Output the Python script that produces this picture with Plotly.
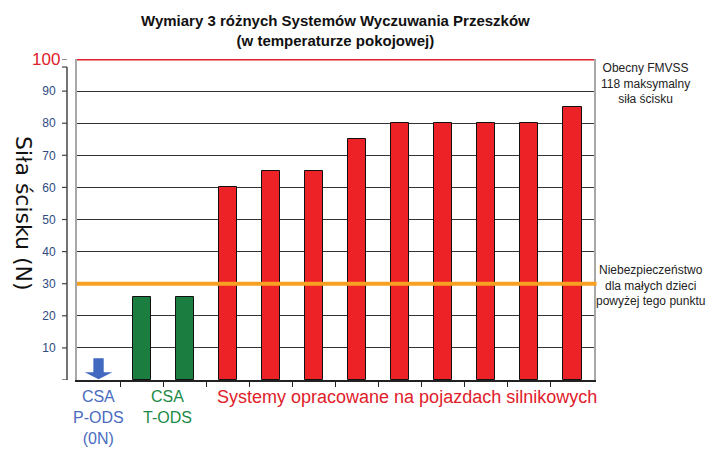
import plotly.graph_objects as go

# ---- data ----
categories = ["CSA P-ODS", "CSA T-ODS a", "CSA T-ODS b",
              "Sys 1", "Sys 2", "Sys 3", "Sys 4", "Sys 5",
              "Sys 6", "Sys 7", "Sys 8", "Sys 9"]
values = [0, 26, 26, 60, 65, 65, 75, 80, 80, 80, 80, 85]
groups = ["pods", "tods", "tods"] + ["veh"] * 9
fmvss_limit = 100
danger_level = 30
y_ticks = [10, 20, 30, 40, 50, 60, 70, 80, 90]

group_colors = {"pods": "#4169c0", "tods": "#1b7d3f", "veh": "#ec2227"}

x_pos = list(range(len(categories)))

fig = go.Figure()
fig.add_trace(go.Bar(
    x=x_pos, y=values, width=0.42,
    marker=dict(color=[group_colors[g] for g in groups],
                line=dict(color="#111111",
                          width=[0 if v == 0 else 1 for v in values])),
    hovertext=categories, showlegend=False,
))

shapes = []
# blue block arrow for P-ODS (0 N)
shapes.append(dict(
    type="path", xref="x", yref="y",
    path="M -0.12 6.8 L 0.12 6.8 L 0.12 2.4 L 0.32 2.4 L 0 0.2 L -0.32 2.4 L -0.12 2.4 Z",
    fillcolor="#4169c0", line=dict(width=0), layer="above"))
# reference lines
shapes.append(dict(type="line", xref="paper", yref="y", x0=0, x1=1.0,
                   y0=fmvss_limit, y1=fmvss_limit,
                   line=dict(color="#e0202a", width=3), layer="above"))
shapes.append(dict(type="line", xref="paper", yref="y", x0=0, x1=1.005,
                   y0=danger_level, y1=danger_level,
                   line=dict(color="#f7a021", width=4), layer="above"))
# offset y axis line with ticks (drawn left of the plot frame)
axis_top = 97.5
shapes.append(dict(type="line", xref="paper", yref="y", xsizemode="pixel",
                   xanchor=0, x0=-10, x1=-10, y0=0, y1=axis_top,
                   line=dict(color="#444", width=1.5)))
for v in [0] + y_ticks + [axis_top]:
    shapes.append(dict(type="line", xref="paper", yref="y", xsizemode="pixel",
                       xanchor=0, x0=-15, x1=-10, y0=v, y1=v,
                       line=dict(color="#444", width=1.2)))
shapes.append(dict(type="line", xref="paper", yref="y", xsizemode="pixel",
                   xanchor=0, x0=-15, x1=-10, y0=fmvss_limit, y1=fmvss_limit,
                   line=dict(color="#444", width=1.2)))

annotations = [
    dict(text="<b>Wymiary 3 różnych Systemów Wyczuwania Przeszków<br>(w temperaturze pokojowej)</b>",
         xref="paper", yref="paper", x=0.5, y=1.0, yshift=29, xshift=0,
         xanchor="center", showarrow=False, font=dict(size=15, color="#111"),
         yanchor="middle"),
    dict(text="100", xref="paper", yref="y", x=0, y=100, xanchor="right",
         xshift=-15, showarrow=False, font=dict(size=17, color="#e0202a")),
    dict(text="Siła ścisku (N)", xref="paper", yref="paper", x=0, y=0.52,
         xshift=-53, textangle=90, showarrow=False, xanchor="center",
         font=dict(size=22, color="#111", family="DejaVu Sans, Liberation Sans")),
    dict(text="Obecny FMVSS<br>118 maksymalny<br>siła ścisku", xref="paper",
         yref="y", x=1, y=92.5, xshift=51, xanchor="center", showarrow=False,
         font=dict(size=12, color="#222")),
    dict(text="Niebezpieczeństwo<br>dla małych dzieci<br>powyżej tego punktu",
         xref="paper", yref="y", x=1, y=29.5, xshift=56, xanchor="center",
         showarrow=False, font=dict(size=12, color="#222")),
    dict(text="CSA<br>P-ODS<br>(0N)", xref="x", yref="paper", x=0, y=0,
         yanchor="top", yshift=-6, showarrow=False, xanchor="center",
         font=dict(size=16, color="#4a6cc0")),
    dict(text="CSA<br>T-ODS", xref="x", yref="paper", x=1.6, y=0,
         yanchor="top", yshift=-6, showarrow=False, xanchor="center",
         font=dict(size=16, color="#1b8a45")),
    dict(text="Systemy opracowane na pojazdach silnikowych", xref="x",
         yref="paper", x=7.15, y=0, yanchor="top", yshift=-5, showarrow=False,
         xanchor="center", font=dict(size=18, color="#e0202a")),
]

fig.update_layout(
    width=707, height=449,
    margin=dict(l=77, r=113, t=59, b=69),
    paper_bgcolor="white", plot_bgcolor="white",
    font=dict(family="Liberation Sans, Arial, sans-serif"),
    shapes=shapes, annotations=annotations, bargap=0,
)
fig.update_xaxes(
    range=[-0.5, len(categories) - 0.5],
    tickvals=[i + 0.5 for i in range(len(categories) - 1)],
    ticktext=[""] * (len(categories) - 1),
    ticks="outside", ticklen=5, tickcolor="#222",
    showline=True, linecolor="#222", linewidth=1.5,
    showgrid=False, zeroline=False,
)
fig.update_yaxes(
    range=[0, 100],
    tickvals=y_ticks, ticktext=[str(v) for v in y_ticks],
    ticks="outside", ticklen=17, tickcolor="rgba(0,0,0,0)",
    tickfont=dict(size=12, color="#2e4a80",
                  family="Liberation Sans Narrow, Arial Narrow, Liberation Sans"),
    showline=True, linecolor="#a8a8a8", linewidth=2, mirror=True,
    showgrid=True, gridcolor="#333333", gridwidth=1, zeroline=False,
)

fig.write_html("out.html", config={"displayModeBar": False},
               post_script="document.body.style.margin='0px';document.body.style.overflow='hidden';")
